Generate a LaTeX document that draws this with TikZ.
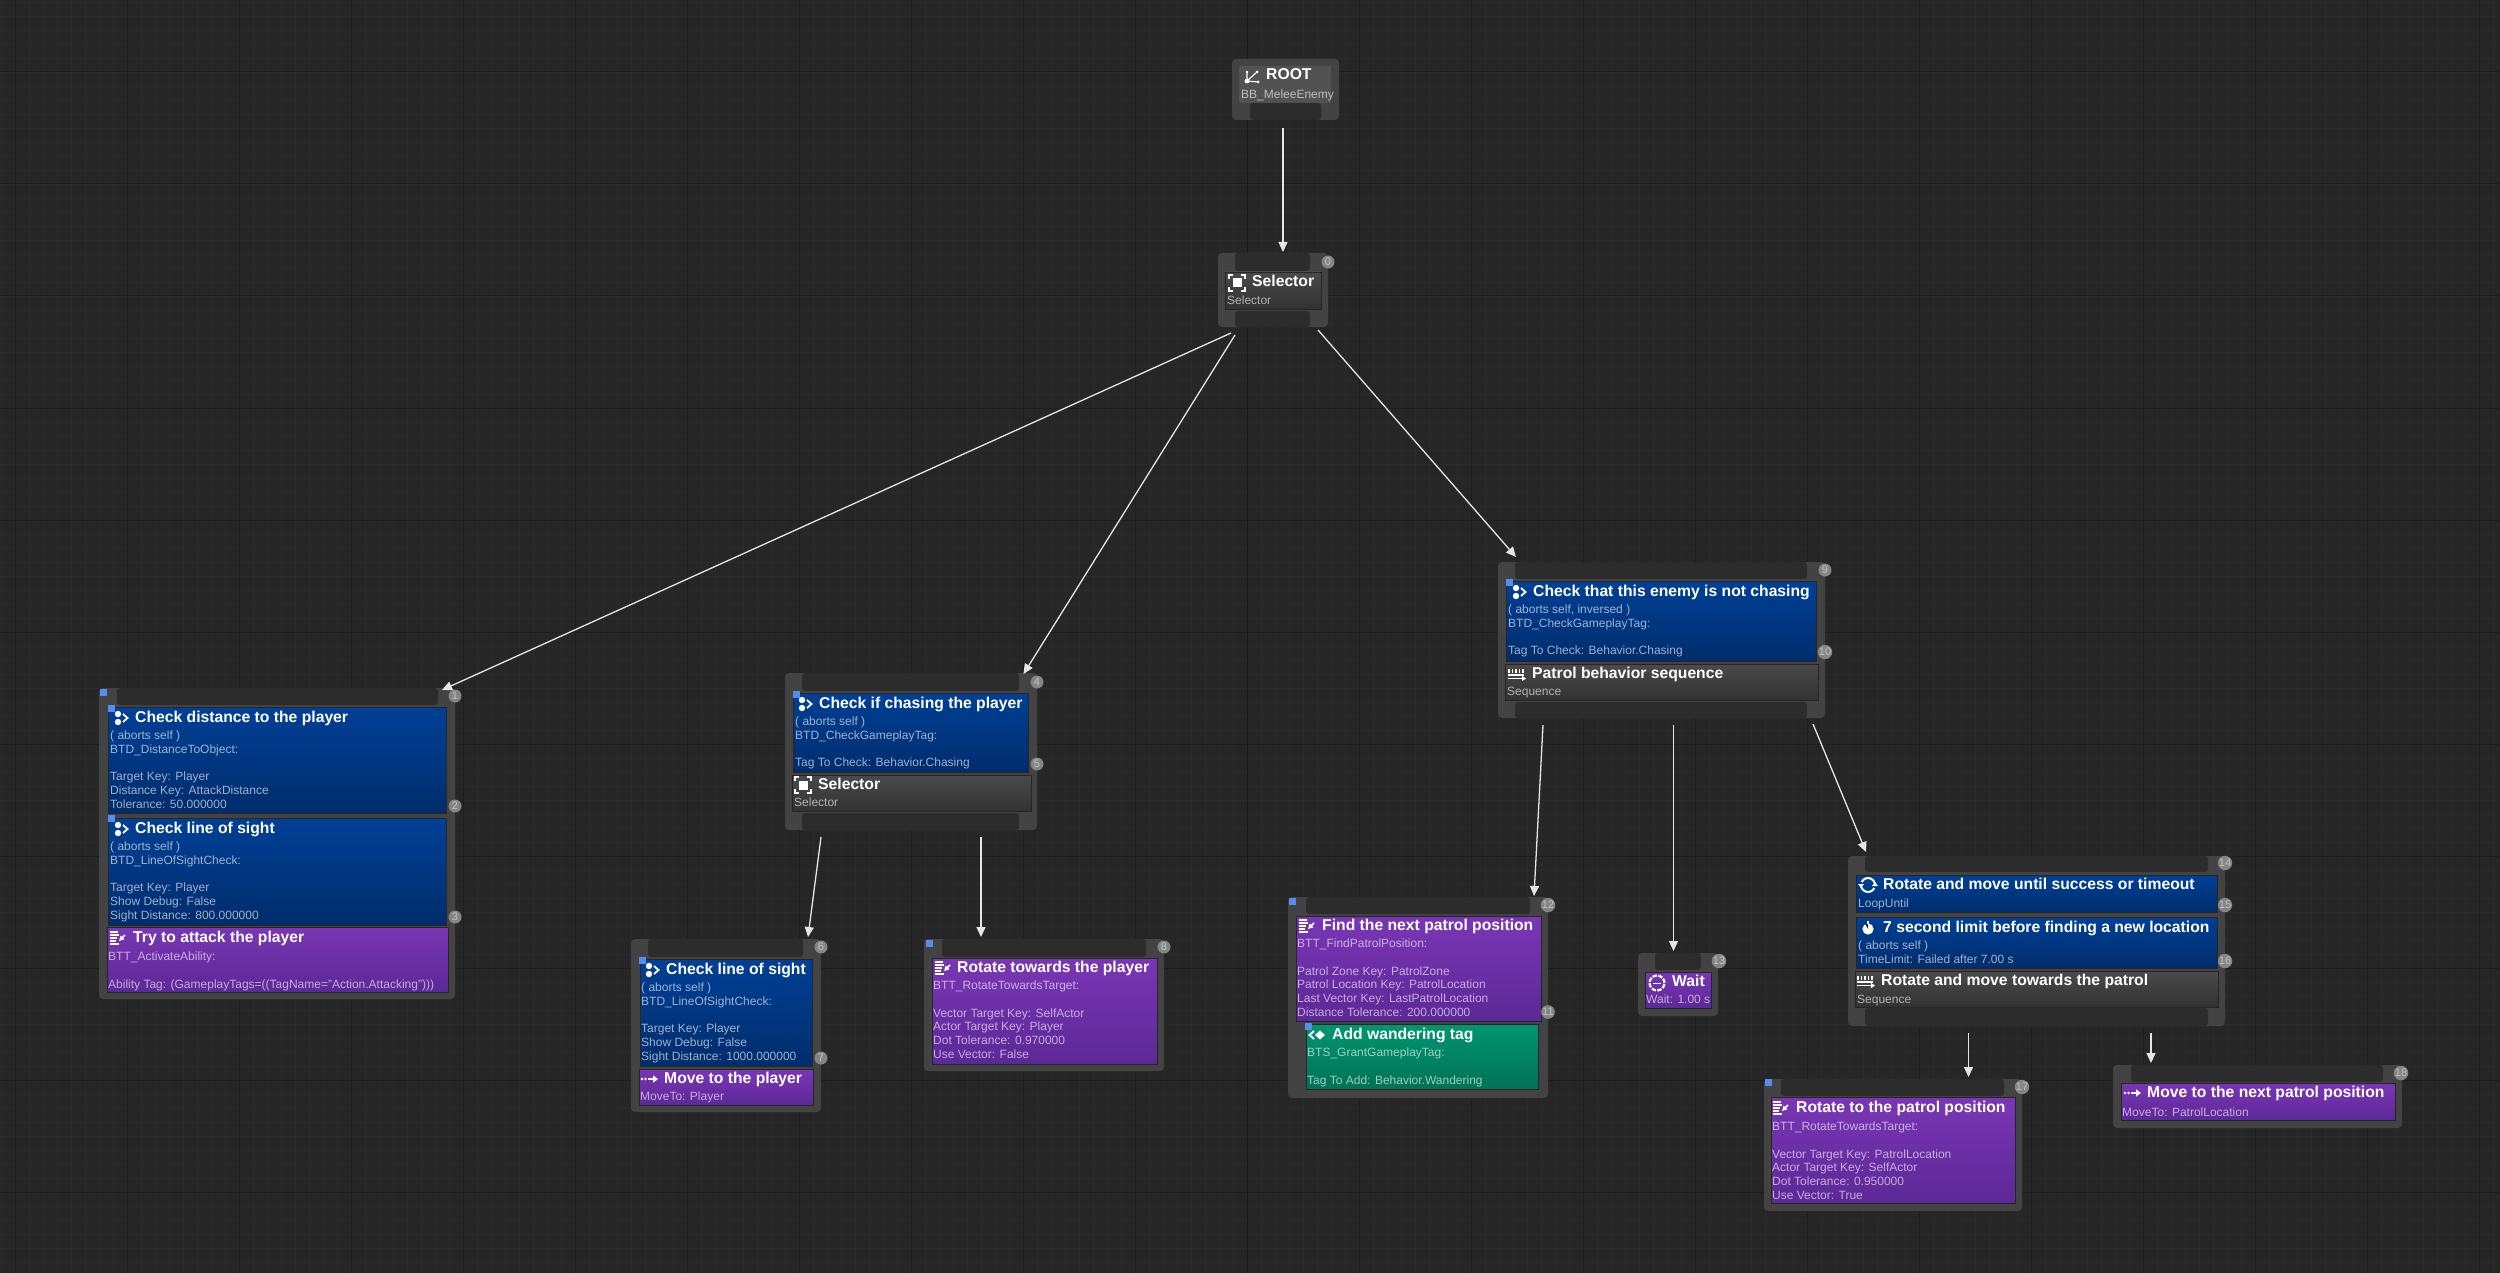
\documentclass[tikz,border=0pt]{standalone}
\usepackage{fontspec}
\setmainfont{Liberation Sans}
\usetikzlibrary{arrows.meta,fit}

\definecolor{canvasbg}{HTML}{262626}
\definecolor{gridminor}{HTML}{2A2A2A}
\definecolor{gridmajor}{HTML}{1E1E1E}
\definecolor{framegray}{HTML}{434343}
\definecolor{pinbar}{HTML}{2C2C2C}
\definecolor{decotop}{RGB}{0,64,150}
\definecolor{decobot}{RGB}{0,45,108}
\definecolor{tasktop}{RGB}{122,54,181}
\definecolor{taskbot}{RGB}{92,40,150}
\definecolor{servtop}{RGB}{0,150,112}
\definecolor{servbot}{RGB}{0,114,86}
\definecolor{comptop}{RGB}{74,74,74}
\definecolor{compbot}{RGB}{50,50,50}
\definecolor{markblue}{RGB}{85,140,240}

\newcommand{\rectnode}[6]{\node[#1, fit={(#3,#4) (#5,#6)}] (#2) {};}

\tikzset{
	box/.style={rectangle, inner sep=0pt, outer sep=0pt},
	frame/.style={box, fill=framegray, rounded corners=4pt},
	pins/.style={box, fill=pinbar, rounded corners=3pt},
	deco/.style={box, draw=black!85, line width=0.6pt, top color=decotop, bottom color=decobot},
	task/.style={box, draw=black!85, line width=0.6pt, top color=tasktop, bottom color=taskbot},
	serv/.style={box, draw=black!85, line width=0.6pt, top color=servtop, bottom color=servbot},
	comp/.style={box, draw=black!85, line width=0.6pt, top color=comptop, bottom color=compbot},
	plain/.style={box, fill=white!8!framegray, rounded corners=1pt},
	headline/.style={anchor=west, inner sep=0pt, text=white, font=\fontsize{15.7}{18}\selectfont\bfseries, text height=11pt, text depth=3pt},
	subline/.style={anchor=north west, inner sep=0pt, yshift=-1.5pt, align=left, text=white, text opacity=0.62, font=\fontsize{12}{13.8}\selectfont},
	badge/.style={circle, inner sep=0pt, minimum size=13pt, fill=white!52!black, text=white!76!black, font=\fontsize{11}{11}\selectfont},
	marker/.style={box, fill=markblue, minimum size=7pt},
	wire/.style={draw=white!90!black, line width=1.3pt, -{Triangle[length=10pt, width=9pt]}},
	ico/.style={line width=1.4pt, draw=white, fill=none},
	decoicon/.pic={
		\fill[white] (-2,-4) circle (3.2pt) (-2,4) circle (3.2pt);
		\draw[ico, line width=1.8pt] (3,-4) -- (7.5,0) -- (3,4);
	},
	taskicon/.pic={
		\draw[ico, line width=1.3pt] (-8,-6) -- (0,-6) (-8,-3) -- (1,-3) (-8,0) -- (-1,0) (-8,3) -- (-2,3) (-8,6) -- (1,6);
		\draw[ico, line width=1.6pt, -{Triangle[length=5pt, width=5pt]}] (7,-3) -- (1,3);
	},
	selicon/.pic={
		\fill[white] (-4.5,-4.5) rectangle (4.5,4.5);
		\draw[ico, line width=1.2pt] (-8,-4) -- (-8,-8) -- (-4,-8) (4,-8) -- (8,-8) -- (8,-4) (8,4) -- (8,8) -- (4,8) (-4,8) -- (-8,8) -- (-8,4);
	},
	seqicon/.pic={
		\draw[ico, line width=1.5pt] (-8,-5) -- (-8,-1) (-4.5,-5) -- (-4.5,-1) (-1,-5) -- (-1,-1) (2.5,-5) -- (2.5,-1) (6,-5) -- (6,-1);
		\draw[ico, line width=1.6pt] (-9,1) -- (7,1);
		\draw[ico, line width=1.5pt, -{Triangle[length=4pt, width=5pt]}] (-9,4.5) -- (9,4.5);
	},
	moveicon/.pic={
		\fill[white] (-8,0) circle (1.4pt) (-4.5,0) circle (1.4pt);
		\draw[ico, line width=1.7pt, -{Triangle[length=5pt, width=7pt]}] (-2,0) -- (8,0);
	},
	waiticon/.pic={
		\draw[ico, line width=2.2pt, dash pattern=on 4.5pt off 1.4pt] (0,0) circle (7.5pt);
		\draw[white, line width=0.5pt] (-4,0) -- (4,0);
	},
	loopicon/.pic={
		\draw[ico, line width=2pt] (25:7) arc (25:165:7);
		\draw[ico, line width=2pt] (205:7) arc (205:345:7);
		\fill[white] (-10,-1) -- (-4,-1) -- (-7,3) -- cycle (10,1) -- (4,1) -- (7,-3) -- cycle;
	},
	timeicon/.pic={
		\fill[white] (0,1) circle (5.6pt);
		\fill[canvasbg] (0,1) -- (0,-4) arc (90:150:5) -- cycle;
		\draw[ico, line width=1.6pt] (0,-4) -- (0,-7);
	},
	servicon/.pic={
		\draw[ico, line width=1.8pt] (-3,-4) -- (-7.5,0) -- (-3,4);
		\fill[white] (3,-4.5) -- (8,0) -- (3,4.5) -- (-2,0) -- cycle;
	},
	rooticon/.pic={
		\fill[white] (-5,4) circle (2.4pt) (-5,-5) circle (1.3pt) (5,-5) circle (1.5pt) (6,5) circle (1.5pt);
		\draw[ico, line width=1.1pt] (-5,-5) -- (-5,4) -- (5,-5) (-5,4) -- (6,5);
	},
}

\begin{document}
\begin{tikzpicture}[x=1pt, y=-1pt]
	\useasboundingbox (0,0) rectangle (2500,1273);
	\fill[canvasbg] (0,0) rectangle (2500,1273);
	% grid
	\foreach \x in {1,15,...,2500} \draw[gridminor, line width=0.8pt] (\x,0) -- (\x,1273);
	\foreach \y in {2,16,...,1273} \draw[gridminor, line width=0.8pt] (0,\y) -- (2500,\y);
	\foreach \x in {15,127,...,2500} \draw[gridmajor, line width=1pt] (\x,0) -- (\x,1273);
	\foreach \y in {72,184,...,1273} \draw[gridmajor, line width=1pt] (0,\y) -- (2500,\y);
	\draw[black!90, line width=1pt] (1247,0) -- (1247,1273);

	% root
	\rectnode{frame}{root}{1232}{59}{1339}{120}
	\rectnode{plain}{rootin}{1239}{66}{1331}{103}
	\rectnode{pins}{rootpin}{1250}{103}{1321}{120}
	\pic at (1252,77) {rooticon};
	\node[headline] (roott) at (1266,76) {ROOT};
	\node[subline] (roots) at (1241,88) {BB\_MeleeEnemy};

	% top selector
	\rectnode{frame}{sel}{1218}{253}{1328}{327}
	\rectnode{pins}{seltop}{1235}{253}{1310}{271}
	\rectnode{comp}{selin}{1225}{272}{1321}{309}
	\rectnode{pins}{selbot}{1235}{311}{1310}{327}
	\pic at (1237,283) {selicon};
	\node[headline] (selt) at (1252,283) {Selector};
	\node[subline] (sels) at (1227,294) {Selector};
	\node[badge] (b0) at (1328,262) {0};

	% attack branch
	\rectnode{frame}{attack}{99}{688}{455}{999}
	\rectnode{pins}{attacktop}{117}{688}{438}{705}
	\rectnode{deco}{dist}{108}{707}{446}{813}
	\rectnode{deco}{sight}{108}{818}{446}{925}
	\rectnode{task}{hit}{107}{927}{448}{992}
	\pic at (120,718) {decoicon};
	\node[headline] (distt) at (135,718) {Check distance to the player};
	\node[subline] (dists) at (110,729) {( aborts self )\\BTD\_DistanceToObject:\\ \\Target Key: Player\\Distance Key: AttackDistance\\Tolerance: 50.000000};
	\pic at (120,829) {decoicon};
	\node[headline] (sightt) at (135,829) {Check line of sight};
	\node[subline] (sights) at (110,840) {( aborts self )\\BTD\_LineOfSightCheck:\\ \\Target Key: Player\\Show Debug: False\\Sight Distance: 800.000000};
	\pic at (118,938) {taskicon};
	\node[headline] (hitt) at (133,938) {Try to attack the player};
	\node[subline] (hits) at (108,950) {BTT\_ActivateAbility:\\ \\Ability Tag: (GameplayTags=((TagName="Action.Attacking")))};
	\node[marker] (m1) at (103,692) {};
	\node[marker] (m2) at (111,708) {};
	\node[marker] (m3) at (111,818) {};
	\node[badge] (b1) at (455,696) {1};
	\node[badge] (b2) at (455,806) {2};
	\node[badge] (b3) at (455,917) {3};

	% chase branch
	\rectnode{frame}{chase}{785}{673}{1037}{830}
	\rectnode{pins}{chasetop}{802}{673}{1019}{691}
	\rectnode{deco}{chasein}{793}{693}{1028}{772}
	\rectnode{comp}{chasesel}{792}{775}{1031}{811}
	\rectnode{pins}{chasebot}{802}{813}{1019}{830}
	\pic at (804,704) {decoicon};
	\node[headline] (chaset) at (819,704) {Check if chasing the player};
	\node[subline] (chases) at (795,715) {( aborts self )\\BTD\_CheckGameplayTag:\\ \\Tag To Check: Behavior.Chasing};
	\pic at (803,785) {selicon};
	\node[headline] (csel) at (818,785) {Selector};
	\node[subline] (csels) at (794,796) {Selector};
	\node[marker] (m4) at (796,694) {};
	\node[badge] (b4) at (1037,682) {4};
	\node[badge] (b5) at (1037,764) {5};

	\rectnode{frame}{los}{631}{939}{821}{1112}
	\rectnode{pins}{lostop}{648}{939}{803}{957}
	\rectnode{deco}{losin}{640}{959}{812}{1066}
	\rectnode{task}{movep}{639}{1069}{813}{1105}
	\pic at (651,970) {decoicon};
	\node[headline] (lost) at (666,970) {Check line of sight};
	\node[subline] (loss) at (641,981) {( aborts self )\\BTD\_LineOfSightCheck:\\ \\Target Key: Player\\Show Debug: False\\Sight Distance: 1000.000000};
	\pic at (650,1079) {moveicon};
	\node[headline] (movet) at (664,1079) {Move to the player};
	\node[subline] (moves) at (640,1090) {MoveTo: Player};
	\node[marker] (m5) at (642,960) {};
	\node[badge] (b6) at (821,947) {6};
	\node[badge] (b7) at (821,1058) {7};

	\rectnode{frame}{rot}{924}{939}{1164}{1071}
	\rectnode{pins}{rottop}{942}{939}{1146}{957}
	\rectnode{task}{rotin}{932}{958}{1157}{1064}
	\pic at (943,968) {taskicon};
	\node[headline] (rott) at (957,968) {Rotate towards the player};
	\node[subline] (rots) at (933,979) {BTT\_RotateTowardsTarget:\\ \\Vector Target Key: SelfActor\\Actor Target Key: Player\\Dot Tolerance: 0.970000\\Use Vector: False};
	\node[marker] (m6) at (929,943) {};
	\node[badge] (b8) at (1164,947) {8};

	% patrol branch
	\rectnode{frame}{patrol}{1498}{562}{1825}{718}
	\rectnode{pins}{patroltop}{1515}{562}{1807}{579}
	\rectnode{deco}{patrolin}{1506}{581}{1816}{661}
	\rectnode{comp}{patrolseq}{1505}{664}{1818}{700}
	\rectnode{pins}{patrolbot}{1515}{702}{1807}{718}
	\pic at (1518,592) {decoicon};
	\node[headline] (patrolt) at (1533,592) {Check that this enemy is not chasing};
	\node[subline] (patrols) at (1508,603) {( aborts self, inversed )\\BTD\_CheckGameplayTag:\\ \\Tag To Check: Behavior.Chasing};
	\pic at (1517,674) {seqicon};
	\node[headline] (seqt) at (1532,674) {Patrol behavior sequence};
	\node[subline] (seqs) at (1507,685) {Sequence};
	\node[marker] (m7) at (1509,582) {};
	\node[badge] (b9) at (1825,570) {9};
	\node[badge] (b10) at (1825,652) {10};

	\rectnode{frame}{find}{1288}{897}{1548}{1098}
	\rectnode{pins}{findtop}{1306}{897}{1530}{914}
	\rectnode{task}{findin}{1296}{916}{1541}{1021}
	\rectnode{serv}{wander}{1306}{1024}{1538}{1089}
	\pic at (1307,926) {taskicon};
	\node[headline] (findt) at (1322,926) {Find the next patrol position};
	\node[subline] (finds) at (1297,937) {BTT\_FindPatrolPosition:\\ \\Patrol Zone Key: PatrolZone\\Patrol Location Key: PatrolLocation\\Last Vector Key: LastPatrolLocation\\Distance Tolerance: 200.000000};
	\pic at (1317,1035) {servicon};
	\node[headline] (wandt) at (1332,1035) {Add wandering tag};
	\node[subline] (wands) at (1307,1046) {BTS\_GrantGameplayTag:\\ \\Tag To Add: Behavior.Wandering};
	\node[marker] (m8) at (1292,901) {};
	\node[marker] (m9) at (1308,1026) {};
	\node[badge] (b12) at (1548,905) {12};
	\node[badge] (b11) at (1548,1012) {11};

	\rectnode{frame}{wait}{1638}{953}{1718}{1016}
	\rectnode{pins}{waittop}{1655}{953}{1701}{970}
	\rectnode{task}{waitin}{1645}{972}{1711}{1008}
	\pic at (1657,983) {waiticon};
	\node[headline] (waitt) at (1672,982) {Wait};
	\node[subline] (waits) at (1646,993) {Wait: 1.00 s};
	\node[badge] (b13) at (1719,961) {13};

	\rectnode{frame}{loop}{1848}{856}{2225}{1026}
	\rectnode{pins}{looptop}{1865}{856}{2208}{872}
	\rectnode{deco}{loopin}{1856}{875}{2217}{912}
	\rectnode{deco}{limit}{1856}{917}{2217}{968}
	\rectnode{comp}{loopseq}{1855}{971}{2218}{1007}
	\rectnode{pins}{loopbot}{1865}{1008}{2208}{1026}
	\pic at (1868,885) {loopicon};
	\node[headline] (loopt) at (1883,885) {Rotate and move until success or timeout};
	\node[subline] (loops) at (1858,897) {LoopUntil};
	\pic at (1868,928) {timeicon};
	\node[headline] (limitt) at (1883,928) {7 second limit before finding a new location};
	\node[subline] (limits) at (1858,939) {( aborts self )\\TimeLimit: Failed after 7.00 s};
	\pic at (1866,981) {seqicon};
	\node[headline] (lseqt) at (1881,981) {Rotate and move towards the patrol};
	\node[subline] (lseqs) at (1857,993) {Sequence};
	\node[badge] (b14) at (2225,863) {14};
	\node[badge] (b15) at (2225,905) {15};
	\node[badge] (b16) at (2225,961) {16};

	\rectnode{frame}{face}{1764}{1079}{2022}{1211}
	\rectnode{pins}{facetop}{1781}{1079}{2004}{1096}
	\rectnode{task}{facein}{1771}{1097}{2015}{1203}
	\pic at (1781,1108) {taskicon};
	\node[headline] (facet) at (1796,1108) {Rotate to the patrol position};
	\node[subline] (faces) at (1772,1120) {BTT\_RotateTowardsTarget:\\ \\Vector Target Key: PatrolLocation\\Actor Target Key: SelfActor\\Dot Tolerance: 0.950000\\Use Vector: True};
	\node[marker] (m10) at (1768,1082) {};
	\node[badge] (b17) at (2022,1087) {17};

	\rectnode{frame}{goto}{2113}{1065}{2402}{1128}
	\rectnode{pins}{gototop}{2131}{1065}{2383}{1082}
	\rectnode{task}{gotoin}{2121}{1083}{2395}{1120}
	\pic at (2133,1093) {moveicon};
	\node[headline] (gotot) at (2147,1093) {Move to the next patrol position};
	\node[subline] (gotos) at (2122,1106) {MoveTo: PatrolLocation};
	\node[badge] (b18) at (2401,1073) {18};

	% connectors
	\draw[wire] ([shift={(-2.5,8)}]root.south) -- ([shift={(10,-1)}]sel.north);
	\draw[wire] ([shift={(-42,6)}]sel.south) -- ([shift={(165,2)}]attack.north);
	\draw[wire] ([shift={(-38,8)}]sel.south) -- ([shift={(112.5,1)}]chase.north);
	\draw[wire] ([shift={(45,3)}]sel.south) -- ([shift={(-145.5,-5)}]patrol.north);
	\draw[wire] ([shift={(-90,7)}]chase.south) -- ([shift={(82,-2)}]los.north);
	\draw[wire] ([shift={(70,7)}]chase.south) -- ([shift={(-63,-2)}]rot.north);
	\draw[wire] ([shift={(-118.5,7)}]patrol.south) -- ([shift={(116,-1)}]find.north);
	\draw[wire] ([shift={(12,7)}]patrol.south) -- ([shift={(-4.5,-2)}]wait.north);
	\draw[wire] ([shift={(151.5,6)}]patrol.south) -- ([shift={(-170.5,-4)}]loop.north);
	\draw[wire] ([shift={(-68,7)}]loop.south) -- ([shift={(75.5,-2)}]face.north);
	\draw[wire] ([shift={(114.5,7)}]loop.south) -- ([shift={(-106.5,-2)}]goto.north);
\end{tikzpicture}
\end{document}
